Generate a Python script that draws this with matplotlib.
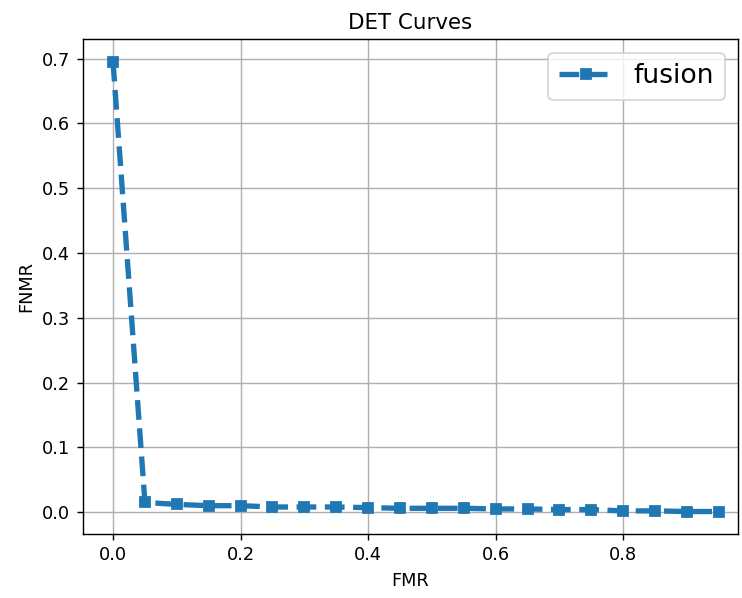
import matplotlib
matplotlib.use("Agg")
import matplotlib.pyplot as plt

# false match rate thresholds and the matching false non-match rates
fmr = [0.00, 0.05, 0.10, 0.15, 0.20, 0.25, 0.30, 0.35, 0.40, 0.45,
       0.50, 0.55, 0.60, 0.65, 0.70, 0.75, 0.80, 0.85, 0.90, 0.95]
fnmr = [0.695, 0.015, 0.012, 0.010, 0.010, 0.008, 0.008, 0.008, 0.007, 0.006,
        0.006, 0.006, 0.005, 0.005, 0.004, 0.004, 0.002, 0.002, 0.001, 0.001]

dpi = 128
fig = plt.figure(figsize=(742 / dpi, 598 / dpi), dpi=dpi)
ax = fig.add_axes([0.1115, 0.107, 0.8832, 0.8273])

ax.plot(fmr, fnmr, "--s", color="#1f77b4", lw=3, label="fusion")
ax.set_xlim(-0.0475, 0.98)
ax.set_title("DET Curves")
ax.set_xlabel("FMR")
ax.set_ylabel("FNMR")
ax.grid(True)
ax.legend(loc="upper right", fontsize=15)

fig.savefig("out.png", dpi=dpi)
